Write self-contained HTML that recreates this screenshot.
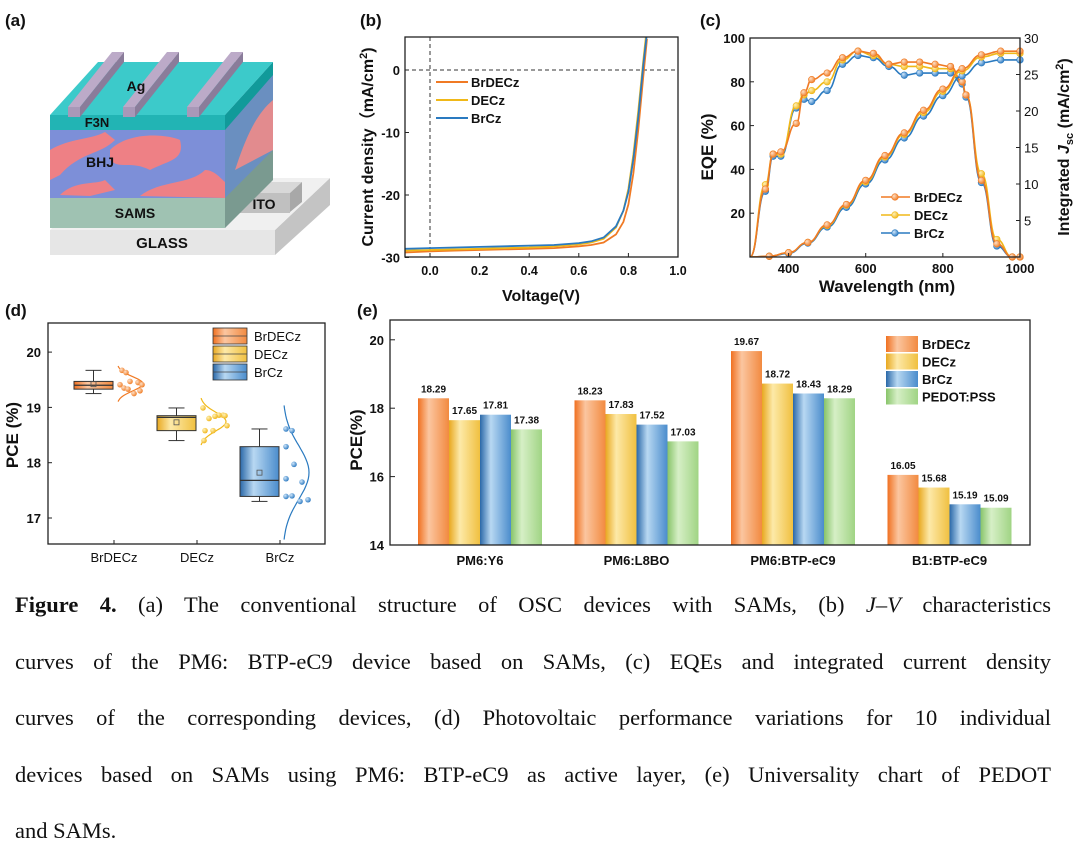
<!DOCTYPE html>
<html><head><meta charset="utf-8">
<style>
html,body{margin:0;padding:0;background:#fff;}
svg{display:block;}
.t{font-family:"Liberation Sans",Arial,sans-serif;font-weight:bold;fill:#111;}
.cap{position:absolute;left:15px;width:1036px;font-family:"Liberation Serif","Times New Roman",serif;font-size:22.5px;color:#111;text-align:justify;text-align-last:justify;white-space:nowrap;line-height:26px;}
</style></head>
<body>
<div style="position:relative;width:1080px;height:847px;overflow:hidden;">
<svg id="fig" width="1080" height="847" viewBox="0 0 1080 847" xmlns="http://www.w3.org/2000/svg">
<defs>
<linearGradient id="gO" x1="0" x2="1"><stop offset="0" stop-color="#f07020"/><stop offset="0.35" stop-color="#fbc6a0"/><stop offset="1" stop-color="#f28a40"/></linearGradient>
<linearGradient id="gY" x1="0" x2="1"><stop offset="0" stop-color="#e8a820"/><stop offset="0.35" stop-color="#fde9a8"/><stop offset="1" stop-color="#f0c040"/></linearGradient>
<linearGradient id="gB" x1="0" x2="1"><stop offset="0" stop-color="#2a68a8"/><stop offset="0.35" stop-color="#b8d8f2"/><stop offset="1" stop-color="#4a8ccc"/></linearGradient>
<linearGradient id="gG" x1="0" x2="1"><stop offset="0" stop-color="#88c46a"/><stop offset="0.35" stop-color="#d6efc6"/><stop offset="1" stop-color="#a0d484"/></linearGradient>
<radialGradient id="rO" cx="0.35" cy="0.35" r="0.7"><stop offset="0" stop-color="#fde0c8"/><stop offset="1" stop-color="#f07a20"/></radialGradient>
<radialGradient id="rY" cx="0.35" cy="0.35" r="0.7"><stop offset="0" stop-color="#fff2b8"/><stop offset="1" stop-color="#f0b418"/></radialGradient>
<radialGradient id="rB" cx="0.35" cy="0.35" r="0.7"><stop offset="0" stop-color="#cfe6fa"/><stop offset="1" stop-color="#2a78c0"/></radialGradient>
</defs>

<!-- Panel (a) -->
<g>
<text class="t" x="5" y="26" font-size="17">(a)</text>
<polygon points="275,230 330,178 330,205 275,255" fill="#c4c4c4"/>
<polygon points="50,230 105,178 330,178 275,230" fill="#f0f0f0"/>
<rect x="50" y="230" width="225" height="25" fill="#e6e6e6"/>
<text class="t" x="162" y="248" font-size="15" text-anchor="middle" fill="#222">GLASS</text>
<polygon points="240,193 252,182 302,182 290,193" fill="#d8d8d8"/>
<polygon points="290,193 302,182 302,202 290,212" fill="#a8a8a8"/>
<rect x="238" y="193" width="52" height="20" fill="#c0c0c0"/>
<text class="t" x="264" y="209" font-size="14" text-anchor="middle" fill="#222">ITO</text>
<polygon points="225,115 273,62 273,150 225,228" fill="#6a8fc0"/>
<polygon points="225,198 273,150 273,180 225,228" fill="#7a9a90"/>
<path d="M235,170 C245,140 255,115 273,100 L273,150 Z" fill="#e28b8e"/>
<polygon points="225,115 273,62 273,75 225,130" fill="#119a9a"/>
<rect x="50" y="198" width="175" height="30" fill="#9fc2b2"/>
<text class="t" x="135" y="218" font-size="14" text-anchor="middle" fill="#222">SAMS</text>
<rect x="50" y="130" width="175" height="68" fill="#7d8fd8"/>
<path d="M50,150 C70,138 90,140 105,132 L115,140 C100,155 80,152 60,175 L50,180 Z" fill="#ee8085"/>
<path d="M110,150 C130,130 170,135 180,140 C185,160 170,160 150,170 C130,160 120,170 110,160 Z" fill="#ee8085"/>
<path d="M60,195 C75,180 95,185 105,180 L115,190 L90,196 Z" fill="#ee8085"/>
<path d="M140,196 C160,180 190,185 205,170 C215,170 222,180 225,182 L225,198 Z" fill="#ee8085"/>
<text class="t" x="100" y="167" font-size="14" text-anchor="middle" fill="#223">BHJ</text>
<rect x="50" y="115" width="175" height="15" fill="#22b4b4"/>
<text class="t" x="97" y="127" font-size="13" text-anchor="middle" fill="#123">F3N</text>
<polygon points="50,115 98,62 273,62 225,115" fill="#3ccaca"/>
<g>
<polygon points="68,107 112,52 124,52 80,107" fill="#bcaac8"/>
<polygon points="80,107 124,52 124,62 80,117" fill="#8a7c9a"/>
<rect x="68" y="107" width="12" height="10" fill="#a898b8"/>
<polygon points="123,107 167,52 179,52 135,107" fill="#bcaac8"/>
<polygon points="135,107 179,52 179,62 135,117" fill="#8a7c9a"/>
<rect x="123" y="107" width="12" height="10" fill="#a898b8"/>
<polygon points="187,107 231,52 243,52 199,107" fill="#bcaac8"/>
<polygon points="199,107 243,52 243,62 199,117" fill="#8a7c9a"/>
<rect x="187" y="107" width="12" height="10" fill="#a898b8"/>
</g>
<text class="t" x="136" y="91" font-size="14" text-anchor="middle" fill="#223">Ag</text>
</g>

<g id="pb"></g>
<g id="pc"></g>
<g id="pd"></g>
<g id="pe"></g>
</svg>

<div class="cap" style="top:592px;"><b>Figure 4.</b> (a) The conventional structure of OSC devices with SAMs, (b) <i>J</i>–<i>V</i> characteristics</div>
<div class="cap" style="top:649px;">curves of the PM6: BTP-eC9 device based on SAMs, (c) EQEs and integrated current density</div>
<div class="cap" style="top:705px;">curves of the corresponding devices, (d) Photovoltaic performance variations for 10 individual</div>
<div class="cap" style="top:762px;">devices based on SAMs using PM6: BTP-eC9 as active layer, (e) Universality chart of PEDOT</div>
<div class="cap" style="top:818px;text-align-last:left;">and SAMs.</div>
</div>

<script>
// ---------- data: panel (b) J-V ----------
const jvVolt = [-0.1,0,0.1,0.2,0.3,0.4,0.5,0.6,0.65,0.7,0.75,0.78,0.8,0.82,0.84,0.86,0.875];
const jvBrDECz = [-29.2,-29.0,-28.9,-28.8,-28.7,-28.6,-28.5,-28.2,-28.0,-27.6,-26.3,-24.3,-21.5,-16.5,-9.5,-1.0,5.0];
const jvDECz = [-28.9,-28.8,-28.7,-28.6,-28.5,-28.4,-28.2,-27.9,-27.6,-27.0,-25.2,-22.5,-19.0,-13.5,-6.5,1.5,7.0];
const jvBrCz = [-28.6,-28.5,-28.4,-28.3,-28.2,-28.1,-28.0,-27.7,-27.4,-26.8,-25.0,-22.5,-19.5,-14.2,-7.5,0.8,6.0];
const jvYTicks = [0,-10,-20,-30];
const jvXTicks = [0.0,0.2,0.4,0.6,0.8,1.0];
// ---------- data: panel (c) EQE ----------
const eqeWave = [300,340,360,380,420,440,460,500,540,580,620,660,700,740,780,820,850,860,900,940,980,1000];
const eqeBrDECz = [0,31,47,48,61,75,81,84,91,94,93,88,89,89,88,87,80,74,35,6,0,0];
const eqeDECz = [0,33,47,47,69,74,76,80,90,94,92,88,87,87,86,86,80,74,38,8,0,0];
const eqeBrCz = [0,30,46,46,68,72,71,76,88,92,91,87,83,84,84,84,79,73,34,5,0,0];
const intWave = [300,350,400,450,500,550,600,650,700,750,800,850,900,950,1000];
const intBrDECz = [0,0.1,0.6,2.0,4.4,7.2,10.5,13.9,17.0,20.1,23.0,25.8,27.7,28.2,28.2];
const intDECz = [0,0.1,0.6,2.0,4.3,7.1,10.3,13.7,16.8,19.8,22.7,25.5,27.4,27.9,27.9];
const intBrCz = [0,0.1,0.5,1.9,4.1,6.8,10.0,13.3,16.3,19.3,22.1,24.8,26.6,27.0,27.0];
const eqeLTicks = [20,40,60,80,100];
const eqeRTicks = [5,10,15,20,25,30];
const eqeXTicks = [400,600,800,1000];
// ---------- data: panel (d) box ----------
const boxCats = ["BrDECz","DECz","BrCz"];
const boxQ1 = [19.33,18.58,17.39];
const boxQ3 = [19.47,18.85,18.29];
const boxMed = [19.40,18.82,17.68];
const boxMin = [19.25,18.40,17.30];
const boxMax = [19.67,18.99,18.61];
const boxMean = [19.42,18.73,17.82];
const ptsBrDECz = [19.67,19.63,19.41,19.35,19.47,19.45,19.41,19.33,19.25,19.30];
const ptsDECz = [18.99,18.86,18.85,18.86,18.80,18.67,18.58,18.58,18.40,18.84];
const ptsBrCz = [18.61,18.58,18.29,17.97,17.71,17.65,17.39,17.40,17.30,17.33];
const boxYTicks = [17,18,19,20];
// ---------- data: panel (e) bars ----------
const barCats = ["PM6:Y6","PM6:L8BO","PM6:BTP-eC9","B1:BTP-eC9"];
const barBrDECz = [18.29,18.23,19.67,16.05];
const barDECz = [17.65,17.83,18.72,15.68];
const barBrCz = [17.81,17.52,18.43,15.19];
const barPEDOT = [17.38,17.03,18.29,15.09];
const barYTicks = [14,16,18,20];

const NS="http://www.w3.org/2000/svg";
function mk(parent,tag,attrs,text){const e=document.createElementNS(NS,tag);for(const k in attrs)e.setAttribute(k,attrs[k]);if(text!==undefined)e.textContent=text;parent.appendChild(e);return e;}
const cO="#f07a24",cY="#f0b818",cB="#2a7ac0",cG="#8cc870";

// ===== Panel (b) =====
(function(){
 const g=document.getElementById('pb');
 const L=405,R=678,T=37,B=257;
 const xs=v=>430+v*248, ys=j=>70-j*6.25;
 let e=mk(g,'text',{class:'t',x:360,y:26,'font-size':17},'(b)');
 
 
 e=mk(g,'line',{x1:L,x2:R,y1:ys(0),y2:ys(0),stroke:'#333','stroke-dasharray':'4,3','stroke-width':1});
 
 
 e=mk(g,'line',{x1:xs(0),x2:xs(0),y1:T,y2:B,stroke:'#333','stroke-dasharray':'4,3','stroke-width':1});
 
 
 const cp=mk(g,'clipPath',{id:'cpb'});mk(cp,'rect',{x:L,y:T,width:R-L,height:B-T});
 const series=[[jvBrDECz,cO,'jv-line-brdecz'],[jvDECz,cY,'jv-line-decz'],[jvBrCz,cB,'jv-line-brcz']];
 series.forEach(s=>{
  const d=jvVolt.map((v,i)=>(i?'L':'M')+xs(v).toFixed(1)+','+ys(s[0][i]).toFixed(1)).join('');
  const p=mk(g,'path',{d:d,fill:'none',stroke:s[1],'stroke-width':1.8,'clip-path':'url(#cpb)'});
  
  
 });
 e=mk(g,'rect',{x:L,y:T,width:R-L,height:B-T,fill:'none',stroke:'#222','stroke-width':1.3});
 
 
 jvYTicks.forEach(t=>{
  mk(g,'line',{x1:L,x2:L+4,y1:ys(t),y2:ys(t),stroke:'#222'});
  const tx=mk(g,'text',{class:'t',x:L-5,y:ys(t)+5,'font-size':13,'text-anchor':'end'},String(t));
  
  
 });
 jvXTicks.forEach(t=>{
  mk(g,'line',{x1:xs(t),x2:xs(t),y1:B,y2:B-4,stroke:'#222'});
  const tx=mk(g,'text',{class:'t',x:xs(t),y:B+18,'font-size':12.5,'text-anchor':'middle'},t.toFixed(1));
  
  
 });
 e=mk(g,'text',{class:'t',x:541,y:301,'font-size':16,'text-anchor':'middle'},'Voltage(V)');
 
 
 e=mk(g,'text',{class:'t',x:0,y:0,'font-size':16,'text-anchor':'middle',transform:'translate(373,147) rotate(-90)'});
 e.innerHTML='Current density（mA/cm<tspan dy="-6" font-size="11">2</tspan><tspan dy="6">)</tspan>';
 
 
 const leg=[['BrDECz',cO],['DECz',cY],['BrCz',cB]];
 leg.forEach((l,i)=>{
  const y=82+i*18;
  const ln=mk(g,'line',{x1:436,x2:468,y1:y,y2:y,stroke:l[1],'stroke-width':2});
  
  
  const tx=mk(g,'text',{class:'t',x:471,y:y+5,'font-size':13},l[0]);
  
  
 });
})();

// ===== Panel (c) =====
(function(){
 const g=document.getElementById('pc');
 const L=750,R=1020,T=38,B=257;
 const xs=w=>L+(w-300)*(R-L)/700, yl=v=>B-v*(B-T)/100, yr=v=>B-v*(B-T)/30;
 let e=mk(g,'text',{class:'t',x:700,y:26,'font-size':17},'(c)');
 
 
 const cp=mk(g,'clipPath',{id:'cpc'});mk(cp,'rect',{x:L,y:T,width:R-L,height:B-T});
 const eq=[[eqeBrCz,cB,'rB','eqe-brcz'],[eqeDECz,cY,'rY','eqe-decz'],[eqeBrDECz,cO,'rO','eqe-brdecz']];
 const it=[[intBrCz,cB,'rB','jsc-brcz'],[intDECz,cY,'rY','jsc-decz'],[intBrDECz,cO,'rO','jsc-brdecz']];
 function curve(xsArr,vals,yf,col,grad,name){
  const pts=xsArr.map((w,i)=>[xs(w),yf(vals[i])]);
  let d='M'+pts[0][0]+','+pts[0][1];
  for(let i=1;i<pts.length;i++){const p0=pts[i-1],p1=pts[i];const mx=(p0[0]+p1[0])/2;d+=' C'+mx+','+p0[1]+' '+mx+','+p1[1]+' '+p1[0]+','+p1[1];}
  const p=mk(g,'path',{d:d,fill:'none',stroke:col,'stroke-width':1.6,'clip-path':'url(#cpc)'});
  
  
  pts.forEach((q,i)=>{ if(i===0)return;
   const c=mk(g,'circle',{cx:q[0],cy:q[1],r:3.3,fill:'url(#'+grad+')',stroke:col,'stroke-width':0.6});
   
   
  });
 }
 eq.forEach(s=>curve(eqeWave,s[0],yl,s[1],s[2],s[3]));
 it.forEach(s=>curve(intWave,s[0],yr,s[1],s[2],s[3]));
 e=mk(g,'rect',{x:L,y:T,width:R-L,height:B-T,fill:'none',stroke:'#222','stroke-width':1.3});
 
 
 eqeLTicks.forEach(t=>{
  mk(g,'line',{x1:L,x2:L+4,y1:yl(t),y2:yl(t),stroke:'#222'});
  const tx=mk(g,'text',{class:'t',x:L-5,y:yl(t)+5,'font-size':13,'text-anchor':'end'},String(t));
  
  
 });
 eqeRTicks.forEach(t=>{
  mk(g,'line',{x1:R,x2:R-4,y1:yr(t),y2:yr(t),stroke:'#222'});
  const tx=mk(g,'text',{class:'t',x:R+4,y:yr(t)+5,'font-size':13,'text-anchor':'start',style:'font-weight:normal'},String(t));
  
  
 });
 eqeXTicks.forEach(t=>{
  mk(g,'line',{x1:xs(t),x2:xs(t),y1:B,y2:B-4,stroke:'#222'});
  const tx=mk(g,'text',{class:'t',x:xs(t),y:B+16,'font-size':13,'text-anchor':'middle'},String(t));
  
  
 });
 e=mk(g,'text',{class:'t',x:887,y:292,'font-size':17,'text-anchor':'middle'},'Wavelength (nm)');
 
 
 e=mk(g,'text',{class:'t',x:0,y:0,'font-size':17,'text-anchor':'middle',transform:'translate(713,147) rotate(-90)'},'EQE (%)');
 
 
 e=mk(g,'text',{class:'t',x:0,y:0,'font-size':16,'text-anchor':'middle',transform:'translate(1069,147) rotate(-90)'});
 e.innerHTML='Integrated <tspan font-style="italic">J</tspan><tspan dy="4" font-size="11">sc</tspan><tspan dy="-4"> (mA/cm</tspan><tspan dy="-6" font-size="11">2</tspan><tspan dy="6">)</tspan>';
 
 
 [['BrDECz',cO,'rO'],['DECz',cY,'rY'],['BrCz',cB,'rB']].forEach((l,i)=>{
  const y=197+i*18;
  const ln=mk(g,'line',{x1:881,x2:910,y1:y,y2:y,stroke:l[1],'stroke-width':1.6});
  
  
  mk(g,'circle',{cx:895,cy:y,r:3.3,fill:'url(#'+l[2]+')',stroke:l[1],'stroke-width':0.6});
  const tx=mk(g,'text',{class:'t',x:914,y:y+5,'font-size':13},l[0]);
  
  
 });
})();

// ===== Panel (d) =====
(function(){
 const g=document.getElementById('pd');
 const L=48,R=325,T=323,B=544;
 const ys=p=>518-(p-17)*55.3;
 const cx=[114,197,280];
 const cols=[cO,cY,cB],grads=['gO','gY','gB'],rads=['rO','rY','rB'];
 const pts=[ptsBrDECz,ptsDECz,ptsBrCz];
 const jit=[[4,8,2,6,12,20,24,10,16,22],[2,22,24,18,8,26,4,12,3,14],[2,8,2,10,2,18,2,8,16,24]];
 let e=mk(g,'text',{class:'t',x:5,y:316,'font-size':17},'(d)');
 
 
 e=mk(g,'rect',{x:L,y:T,width:R-L,height:B-T,fill:'none',stroke:'#222','stroke-width':1.3});
 
 
 boxCats.forEach((c,i)=>{
  const x0=cx[i]-40,x1=cx[i]-1,xm=(x0+x1)/2;
  mk(g,'line',{x1:xm,x2:xm,y1:ys(boxMax[i]),y2:ys(boxMin[i]),stroke:'#333','stroke-width':1});
  mk(g,'line',{x1:xm-8,x2:xm+8,y1:ys(boxMax[i]),y2:ys(boxMax[i]),stroke:'#333'});
  mk(g,'line',{x1:xm-8,x2:xm+8,y1:ys(boxMin[i]),y2:ys(boxMin[i]),stroke:'#333'});
  const r=mk(g,'rect',{x:x0,y:ys(boxQ3[i]),width:x1-x0,height:ys(boxQ1[i])-ys(boxQ3[i]),fill:'url(#'+grads[i]+')',stroke:'#333','stroke-width':1});
  
  
  mk(g,'line',{x1:x0,x2:x1,y1:ys(boxMed[i]),y2:ys(boxMed[i]),stroke:'#333','stroke-width':1.3});
  mk(g,'rect',{x:xm-2.5,y:ys(boxMean[i])-2.5,width:5,height:5,fill:'none',stroke:'#555','stroke-width':0.8});
  const m=pts[i].reduce((a,b)=>a+b,0)/pts[i].length;
  const sd=Math.sqrt(pts[i].reduce((a,b)=>a+(b-m)*(b-m),0)/pts[i].length)||0.1;
  let d='';
  for(let k=0;k<=40;k++){const p=m-2.5*sd+k*5*sd/40;const w=Math.exp(-0.5*((p-m)/sd)**2);d+=(k?'L':'M')+(cx[i]+3+w*26).toFixed(1)+','+ys(p).toFixed(1);}
  const cv=mk(g,'path',{d:d,fill:'none',stroke:cols[i],'stroke-width':1.2});
  
  
  pts[i].forEach((p,k)=>{
   const cc=mk(g,'circle',{cx:cx[i]+4+jit[i][k],cy:ys(p),r:2.8,fill:'url(#'+rads[i]+')'});
   
   
  });
  mk(g,'line',{x1:cx[i],x2:cx[i],y1:B,y2:B-4,stroke:'#222'});
  const tx=mk(g,'text',{class:'t',x:cx[i],y:B+18,'font-size':13,'text-anchor':'middle',style:'font-weight:normal'},c);
  
  
 });
 boxYTicks.forEach(t=>{
  mk(g,'line',{x1:L,x2:L+4,y1:ys(t),y2:ys(t),stroke:'#222'});
  const tx=mk(g,'text',{class:'t',x:L-7,y:ys(t)+5,'font-size':13,'text-anchor':'end'},String(t));
  
  
 });
 e=mk(g,'text',{class:'t',x:0,y:0,'font-size':17,'text-anchor':'middle',transform:'translate(18,435) rotate(-90)'},'PCE (%)');
 
 
 boxCats.forEach((c,i)=>{
  const y=328+i*18;
  const r=mk(g,'rect',{x:213,y:y,width:34,height:16,fill:'url(#'+grads[i]+')',stroke:'#333','stroke-width':0.8});
  
  
  mk(g,'line',{x1:213,x2:247,y1:y+8,y2:y+8,stroke:'#444','stroke-width':0.8});
  const tx=mk(g,'text',{class:'t',x:254,y:y+13,'font-size':13,style:'font-weight:normal'},c);
  
  
 });
})();

// ===== Panel (e) =====
(function(){
 const g=document.getElementById('pe');
 const L=390,R=1030,T=320,B=545;
 const ys=v=>B-(v-14)*34.2;
 const gx=i=>480+i*156.5;
 const bw=31;
 const series=[[barBrDECz,'gO','BrDECz'],[barDECz,'gY','DECz'],[barBrCz,'gB','BrCz'],[barPEDOT,'gG','PEDOT:PSS']];
 let e=mk(g,'text',{class:'t',x:357,y:316,'font-size':17},'(e)');
 
 
 barCats.forEach((c,i)=>{
  series.forEach((s,j)=>{
   const x=gx(i)-2*bw+j*bw;
   const r=mk(g,'rect',{x:x,y:ys(s[0][i]),width:bw,height:B-ys(s[0][i]),fill:'url(#'+s[1]+')'});
   
   
   const tx=mk(g,'text',{class:'t',x:x+bw/2,y:ys(s[0][i])-6,'font-size':10,'text-anchor':'middle'},s[0][i].toFixed(2));
   
   
  });
  const tx=mk(g,'text',{class:'t',x:gx(i),y:B+20,'font-size':13,'text-anchor':'middle'},c);
  
  
 });
 e=mk(g,'rect',{x:L,y:T,width:R-L,height:B-T,fill:'none',stroke:'#222','stroke-width':1.3});
 
 
 barYTicks.forEach(t=>{
  mk(g,'line',{x1:L,x2:L+5,y1:ys(t),y2:ys(t),stroke:'#222'});
  const tx=mk(g,'text',{class:'t',x:L-6,y:ys(t)+5,'font-size':13,'text-anchor':'end'},String(t));
  
  
 });
 e=mk(g,'text',{class:'t',x:0,y:0,'font-size':17,'text-anchor':'middle',transform:'translate(362,440) rotate(-90)'},'PCE(%)');
 
 
 series.forEach((s,j)=>{
  const y=336+j*17.5;
  const r=mk(g,'rect',{x:886,y:y,width:32,height:16,fill:'url(#'+s[1]+')'});
  
  
  const tx=mk(g,'text',{class:'t',x:922,y:y+13,'font-size':13},s[2]);
  
  
 });
})();
</script>
</body></html>
